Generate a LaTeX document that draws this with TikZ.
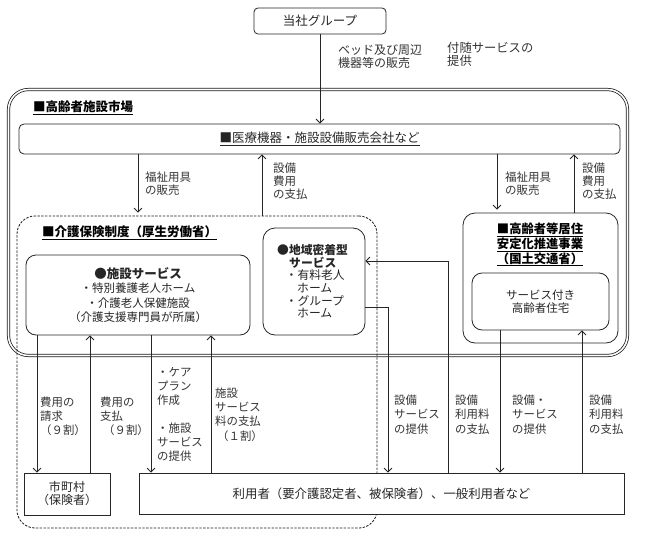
\documentclass[tikz,border=0pt]{standalone}
\usepackage{fontspec}
\newfontfamily\jp{Noto Sans CJK JP}
\usetikzlibrary{arrows.meta}
\begin{document}
\begin{tikzpicture}[x=1pt,y=-1pt,
  ln/.style={line width=0.8pt, draw=black!85},
  arr/.style={ln, -{Straight Barb[length=4pt,width=8pt,line width=0.8pt]}},
  rbox/.style={ln, rectangle, inner sep=0pt, fill=white, text=black!85,
    font=\jp\fontsize{11.5}{14.6}\selectfont, align=center},
  lbl/.style={font=\jp\fontsize{11.4}{14}\selectfont, text=black!80,
    align=left, anchor=north west, inner sep=0pt},
  ttl/.style={font=\jp\bfseries\fontsize{12.5}{13.5}\selectfont, text=black,
    inner sep=0pt},
]
\useasboundingbox (0,0) rectangle (648,535);

% outer market frame (double line)
\node[draw=black!90, double, double distance=1.6pt, line width=0.75pt,
  rounded corners=20pt, minimum width=619pt, minimum height=266pt,
  inner sep=0pt] (mkt) at (318,222.5) {};
% dashed care-insurance region
\node[draw=black!90, line width=0.8pt, dash pattern=on 2.4pt off 1.4pt,
  rounded corners=18pt, minimum width=360pt, minimum height=312pt,
  inner sep=0pt] (kaigo) at (197,372) {};

% boxes
\node[rbox, rounded corners=4pt, minimum width=132pt, minimum height=26pt,
  font=\jp\fontsize{12.5}{14}\selectfont] (grp) at (320,21) {当社グループ};
\node[rbox, rounded corners=5pt, minimum width=601pt, minimum height=30pt,
  font=\jp\fontsize{12.5}{14}\selectfont] (med) at (319.5,139)
  {\underline{■医療機器・施設設備販売会社など}};
\node[rbox, rounded corners=10pt, minimum width=224pt, minimum height=80pt]
  (shisetsu) at (138,295)
  {\textbf{\fontsize{12.5}{14.6}\selectfont ●施設サービス}\\・特別養護老人ホーム\\・介護老人保健施設\\（介護支援専門員が所属）};
\node[rbox, rounded corners=12pt, minimum width=102pt, minimum height=107pt]
  (chiiki) at (314,281.5) {};
\node[rbox, rounded corners=12pt, minimum width=155pt, minimum height=130pt]
  (res) at (540.5,278) {};
\node[rbox, rounded corners=10pt, minimum width=137pt, minimum height=57pt,
  font=\jp\fontsize{11.5}{12.5}\selectfont] (sakou) at (540.5,301.5)
  {サービス付き\\高齢者住宅};
\node[rbox, minimum width=86pt, minimum height=42pt,
  font=\jp\fontsize{12}{13}\selectfont] (city) at (67,494) {市町村\\（保険者）};
\node[rbox, minimum width=485pt, minimum height=41pt,
  font=\jp\fontsize{12.4}{14}\selectfont] (user) at (381.5,493.5)
  {利用者（要介護認定者、被保険者）、一般利用者など};

% titles
\node[ttl, anchor=west] (mkttitle) at (33,108) {\underline{■高齢者施設市場}};
\node[ttl, anchor=west] (kaigotitle) at (42,233) {\underline{■介護保険制度（厚生労働省）}};
\node[ttl, align=center, font=\jp\bfseries\fontsize{12.3}{13.5}\selectfont]
  (restitle) at (540,244.5)
  {\underline{■高齢者等居住}\\\underline{安定化推進事業}\\\underline{（国土交通省）}};
\node[lbl, font=\jp\fontsize{11.8}{12.7}\selectfont, text=black!85]
  (chiikitxt) at (277,244)
  {\textbf{●地域密着型}\\\hspace*{12pt}\textbf{サービス}\\\hspace*{8.5pt}・有料老人\\\hspace*{20pt}ホーム\\\hspace*{8.5pt}・グループ\\\hspace*{20pt}ホーム};

% connectors
\draw[arr] (grp.south) -- (grp.south |- med.north);
\draw[arr, shorten >=3pt] (138,0 |- med.south) -- (138,0 |- kaigo.north);
\draw[arr] (262,0 |- kaigo.north) -- (262,0 |- med.south);
\draw[arr, shorten >=3pt] (497,0 |- med.south) -- (497,0 |- res.north);
\draw[arr] (574,0 |- res.north) -- (574,0 |- med.south);

\draw[arr] (37,0 |- shisetsu.south) -- (37,0 |- city.north);
\draw[arr] (90,0 |- city.north) -- (90,0 |- shisetsu.south);
\draw[arr] (151,0 |- shisetsu.south) -- (151,0 |- user.north);
\draw[arr] (211,0 |- user.north) -- (211,0 |- shisetsu.south);
\draw[arr] (chiiki.east |- 0,307) -| (388,0 |- user.north);
\draw[arr] (448,0 |- user.north) |- (chiiki.east |- 0,261);
\draw[arr] (500,0 |- sakou.south) -- (500,0 |- user.north);
\draw[arr] (582,0 |- user.north) -- (582,0 |- sakou.south);

% labels
\node[lbl, font=\jp\fontsize{12}{13}\selectfont] (tbed) at (338,44.4) {ベッド及び周辺\\機器等の販売};
\node[lbl, font=\jp\fontsize{12.3}{13}\selectfont] (tfuzui) at (447,42.4) {付随サービスの\\提供};
\node[lbl, font=\jp\fontsize{11.5}{13}\selectfont] (tfl) at (145,171.4) {福祉用具\\の販売};
\node[lbl, font=\jp\fontsize{11.5}{13}\selectfont] (tsl) at (273,162.4) {設備\\費用\\の支払};
\node[lbl, font=\jp\fontsize{11.5}{13}\selectfont] (tfr) at (505,171.4) {福祉用具\\の販売};
\node[lbl, font=\jp\fontsize{11.5}{13}\selectfont] (tsr) at (582,162.4) {設備\\費用\\の支払};

\node[lbl] (l1) at (40,396.4) {費用の\\請求\\（９割）};
\node[lbl] (l2) at (100,396.4) {費用の\\支払\\\hspace*{3pt}（９割）};
\node[lbl] (l3) at (157,367.4) {・ケア\\プラン\\作成\\[14pt]・施設\\サービス\\の提供};
\node[lbl, font=\jp\fontsize{11.4}{14.4}\selectfont] (l4) at (215,387.4) {施設\\サービス\\料の支払\\\hspace*{2pt}（１割）};

\node[lbl, font=\jp\fontsize{11.4}{14.5}\selectfont] (r1) at (394,394.4) {設備\\サービス\\の提供};
\node[lbl, font=\jp\fontsize{11.4}{14.5}\selectfont] (r2) at (455,394.4) {設備\\利用料\\の支払};
\node[lbl, font=\jp\fontsize{11.4}{14.5}\selectfont] (r3) at (512,394.4) {設備・\\サービス\\の提供};
\node[lbl, font=\jp\fontsize{11.4}{14.5}\selectfont] (r4) at (589,394.4) {設備\\利用料\\の支払};
\end{tikzpicture}
\end{document}
